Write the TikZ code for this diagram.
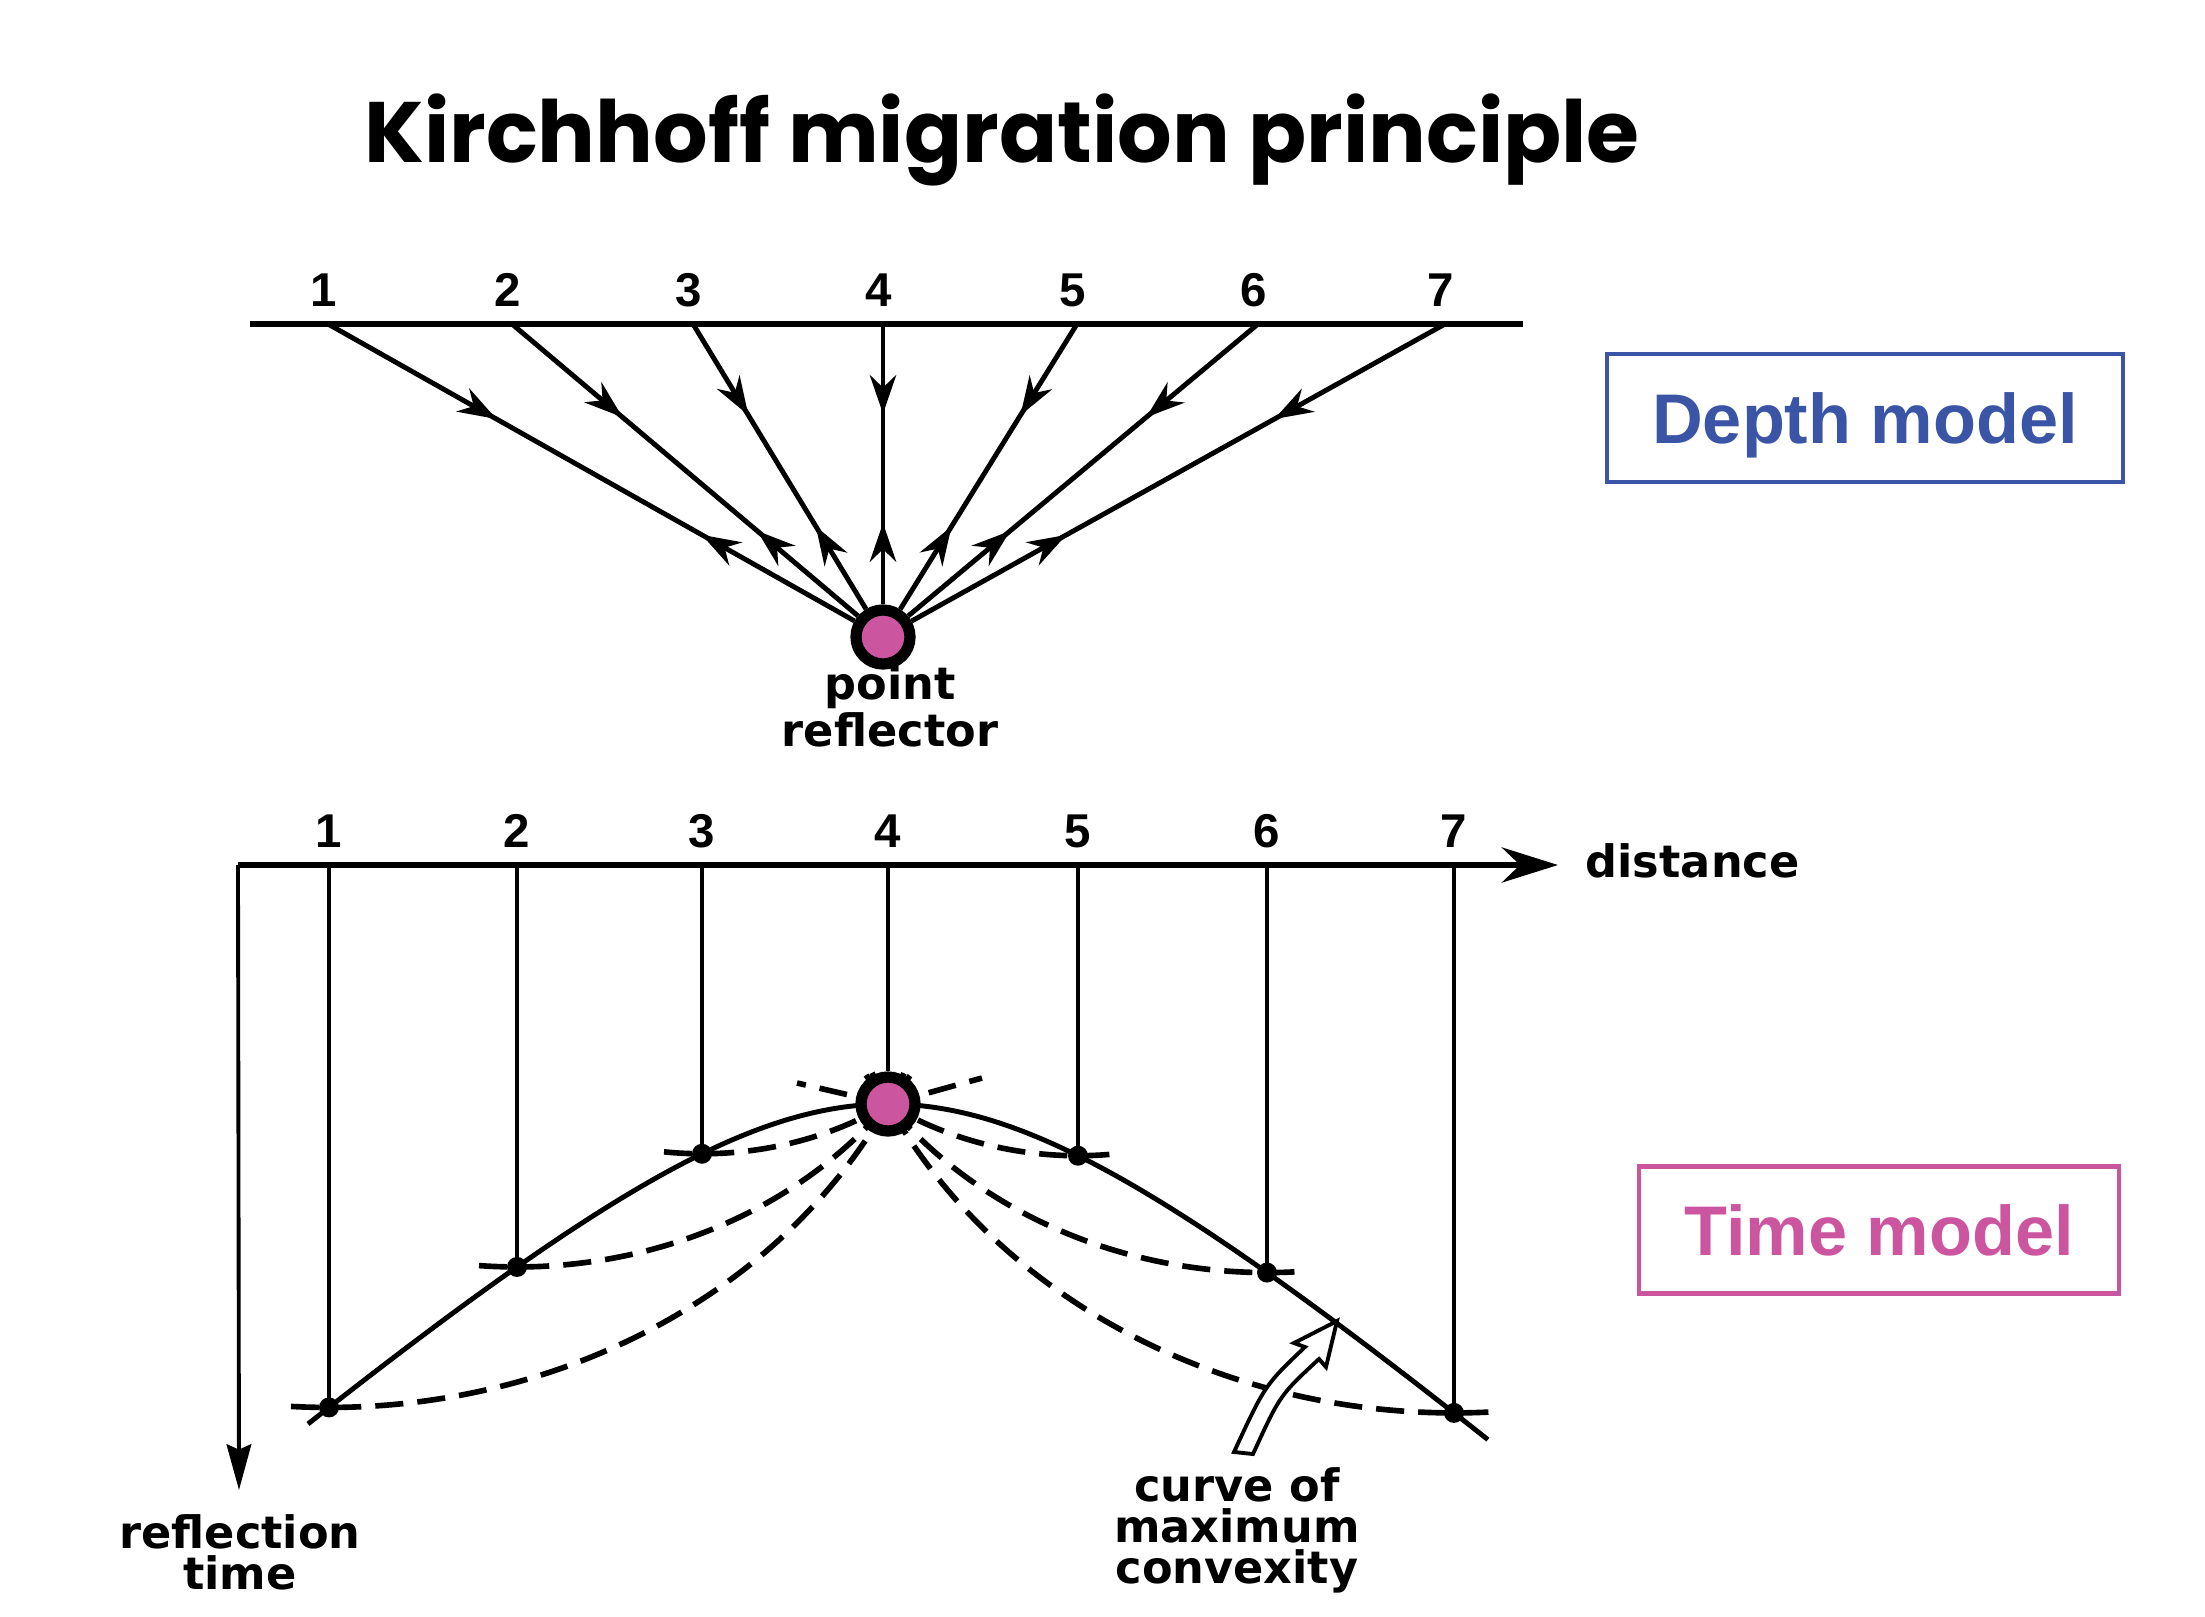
\documentclass[tikz,border=0pt]{standalone}
\usepackage{fontspec}
\usetikzlibrary{arrows.meta,positioning,decorations.markings}
\newfontfamily\titlefont{Poppins}
\newfontfamily\labelfont{DejaVu Sans}
\newfontfamily\boxfont{Liberation Sans}
\definecolor{depthblue}{RGB}{58,84,166}
\definecolor{timepink}{RGB}{204,85,160}

\begin{document}
\begin{tikzpicture}[
    numlabel/.style = {font=\boxfont\bfseries\fontsize{13.5}{15}\selectfont, inner sep=0pt, anchor=base},
    txtlabel/.style = {font=\labelfont\bfseries\fontsize{12.7}{11.7}\selectfont, inner sep=0pt, align=center},
    reflector/.style = {shape=circle, draw, line width=3.2pt, fill=timepink, minimum size=0.54cm, inner sep=0pt},
    raypath/.style = {line width=1.4pt, postaction={decorate}, decoration={markings,
        mark=at position 0.32 with {\arrow{Stealth[length=11pt,width=7.5pt]}},
        mark=at position 0.71 with {\arrowreversed{Stealth[length=11pt,width=7.5pt]}}}},
    tracepath/.style = {line width=1pt},
    smilepath/.style = {line width=1.6pt, dash pattern=on 8pt off 4pt},
    modelbox/.style = {draw, line width=1.2pt, inner sep=0pt, text depth=0pt, font=\boxfont\bfseries\fontsize{20}{24}\selectfont}
]
\useasboundingbox (0,0) rectangle (22.05,-16.16);

\node[font=\titlefont\bfseries\fontsize{24.4}{29}\selectfont, anchor=base] (title) at (10.02,-1.62) {Kirchhoff migration principle};

% depth model
\coordinate (surfL) at (2.50,-3.24);
\coordinate (surfR) at (15.23,-3.24);
\draw[line width=1.6pt] (surfL) -- (surfR);
\node[reflector] (dr) at (8.83,-6.37) {};
\foreach \i/\x in {1/3.28, 2/5.12, 3/6.93, 4/8.83, 5/10.77, 6/12.58, 7/14.45} {
    \coordinate (s\i) at (\x,-3.24);
    \node[numlabel] (dn\i) at (\x-0.04,-3.06) {\i};
    \draw[raypath] (s\i) -- (dr);
}
\node[txtlabel] (drlabel) at (8.90,-7.06) {point\\reflector};
\node[modelbox, draw=depthblue, text=depthblue, minimum width=5.16cm, minimum height=1.28cm] (depth) at (18.65,-4.18) {Depth model};

% time model
\coordinate (orig) at (2.38,-8.65);
\coordinate (xend) at (15.58,-8.65);
\coordinate (tend) at (2.39,-14.90);
\coordinate (apexc) at (8.88,-11.04);
\draw[line width=1.6pt, -{Stealth[length=16pt,width=10pt]}] (orig) -- (xend);
\draw[line width=1.1pt, -{Stealth[length=13pt,width=7pt,inset=1.5pt]}] (orig) -- (tend);
\node[txtlabel, anchor=base west] (dist) at (15.85,-8.77) {distance};
\node[txtlabel] (tlabel) at (2.40,-15.52) {reflection\\time};

\draw[line width=1.4pt] plot[domain=-5.80:6.0, samples=80, smooth]
    ({8.88+(\x)}, {-8.65-sqrt(2.39*2.39+((\x)/1.148)*((\x)/1.148))});
\foreach \k/\xk/\xa/\xb in {1/3.29/2.91/9.04, 2/5.17/4.79/9.10, 3/7.02/6.64/8.95,
                            5/10.78/8.81/11.16, 6/12.67/8.66/13.05, 7/14.54/8.72/14.92} {
    \pgfmathsetmacro\tk{sqrt(2.39*2.39+((\xk-8.88)/1.148)*((\xk-8.88)/1.148))}
    \coordinate (top\k) at (\xk,-8.65);
    \coordinate (d\k) at (\xk,{-8.65-\tk});
    \node[numlabel] (tn\k) at (\xk,-8.47) {\k};
    \draw[tracepath] (top\k) -- (d\k);
    \draw[smilepath] plot[domain=\xa:\xb, samples=60, smooth]
        (\x, {-8.65-sqrt(max(\tk*\tk-((\x-\xk)/1.148)*((\x-\xk)/1.148),0))});
    \fill (d\k) circle (0.1);
}
\draw[smilepath] (apexc) -- (9.82,-10.78);
\draw[smilepath] (apexc) -- (7.97,-10.83);
\node[reflector] (apex) at (apexc) {};
\coordinate (top4) at (8.88,-8.65);
\node[numlabel] (tn4) at (8.88,-8.47) {4};
\draw[tracepath] (top4) -- (apex);

% hollow arrow
\draw[line width=1.1pt, fill=white] (12.34,-14.52) .. controls (12.65,-13.85) .. (13.05,-13.47)
    -- (12.94,-13.43) -- (13.37,-13.21) -- (13.26,-13.67) -- (13.19,-13.59)
    .. controls (12.80,-13.95) .. (12.53,-14.54) -- cycle;
\node[txtlabel] (conv) at (12.37,-15.30) {curve of\\maximum\\convexity};

\node[modelbox, draw=timepink, text=timepink, minimum width=4.80cm, minimum height=1.27cm] (time) at (18.79,-12.30) {Time model};
\end{tikzpicture}
\end{document}
